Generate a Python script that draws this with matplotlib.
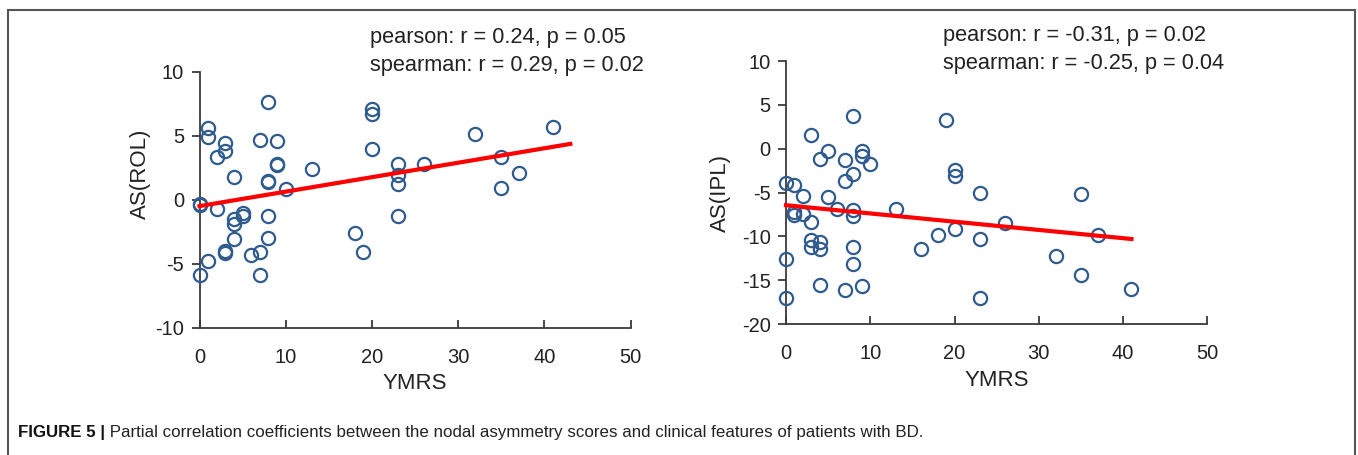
import matplotlib
matplotlib.use("Agg")
import matplotlib.pyplot as plt
import numpy as np
from matplotlib.patches import Rectangle

plt.rcParams['font.family'] = ['Liberation Sans', 'DejaVu Sans']
plt.rcParams['axes.unicode_minus'] = False

# ---- data ----
left_x = [1, 1, 0, 0, 0, 1, 2, 2, 3, 3, 3, 3, 4, 4, 4, 4, 5, 5, 6, 7, 7, 7, 8, 8, 8, 8, 8,
          9, 9, 9, 10, 13, 20, 20, 20, 18, 19, 23, 23, 23, 23, 26, 32, 35, 35, 37, 41]
left_y = [5.6, 4.9, -0.3, -0.4, -5.9, -4.8, 3.3, -0.7, 4.4, 3.8, -4.0, -4.2, 1.8, -1.5, -1.9, -3.1,
          -1.0, -1.3, -4.3, 4.7, -4.1, -5.9, 7.6, 1.5, 1.4, -1.3, -3.0, 4.6, 2.8, 2.7, 0.8, 2.4,
          7.1, 6.7, 4.0, -2.6, -4.1, 2.8, 1.9, 1.2, -1.3, 2.8, 5.1, 3.3, 0.9, 2.1, 5.7]
left_fit_x = [0, 43]
left_fit_intercept, left_fit_slope = -0.5, 0.113

right_x = [0, 0, 0, 1, 1, 1, 2, 2, 3, 3, 3, 3, 4, 4, 4, 4, 5, 5, 6, 7, 7, 7, 8, 8, 8, 8, 8, 8,
           9, 9, 9, 10, 13, 16, 18, 19, 20, 20, 20, 23, 23, 23, 26, 32, 35, 35, 37, 41]
right_y = [-3.9, -12.6, -17.0, -4.2, -7.2, -7.6, -5.4, -7.4, 1.6, -8.4, -10.4, -11.2, -1.2, -10.7,
           -11.5, -15.6, -0.3, -5.5, -6.9, -1.3, -3.7, -16.1, 3.7, -2.9, -7.0, -7.7, -11.2, -13.2,
           -0.3, -0.8, -15.7, -1.7, -6.9, -11.4, -9.8, 3.3, -2.4, -3.1, -9.2, -5.0, -10.3, -17.0,
           -8.5, -12.3, -5.2, -14.4, -9.9, -16.0]
right_fit_x = [0, 41]
right_fit_intercept, right_fit_slope = -6.45, -0.094

left_stats = ["pearson: r = 0.24, p = 0.05", "spearman: r = 0.29, p = 0.02"]
right_stats = ["pearson: r = -0.31, p = 0.02", "spearman: r = -0.25, p = 0.04"]
x_ticks = [0, 10, 20, 30, 40, 50]
left_yticks = [-10, -5, 0, 5, 10]
right_yticks = [-20, -15, -10, -5, 0, 5, 10]
xlabel = "YMRS"
left_ylabel = "AS(ROL)"
right_ylabel = "AS(IPL)"
caption_bold = "FIGURE 5 |"
caption_text = " Partial correlation coefficients between the nodal asymmetry scores and clinical features of patients with BD."

W, H = 1358, 455
fig = plt.figure(figsize=(W / 100, H / 100), dpi=100)

marker_color = '#2F5B8E'
spine_color = '#3a3a3a'
text_color = '#222222'


def style_axes(ax, yticks, ylim, ylabel):
    ax.set_xlim(0, 50)
    ax.set_ylim(*ylim)
    ax.set_xticks(x_ticks)
    ax.set_yticks(yticks)
    ax.spines['top'].set_visible(False)
    ax.spines['right'].set_visible(False)
    for s in ('left', 'bottom'):
        ax.spines[s].set_color(spine_color)
        ax.spines[s].set_linewidth(1.3)
    ax.tick_params(axis='x', direction='in', length=6, width=1.3, color=spine_color,
                   labelsize=14.5, labelcolor=text_color, pad=14.5)
    ax.tick_params(axis='y', direction='out', length=6, width=1.3, color=spine_color,
                   labelsize=14.5, labelcolor=text_color, pad=5)
    ax.set_xlabel(xlabel, fontsize=16, color=text_color)
    ax.set_ylabel(ylabel, fontsize=16, color=text_color)
    ax.patch.set_alpha(0)


# Left plot
ax1 = fig.add_axes([199.5 / W, 1 - 327.7 / H, 431.2 / W, 256 / H])
ax1.plot(left_x, left_y, 'o', mfc='none', mec=marker_color, ms=9.5, mew=1.6, clip_on=False, zorder=3)
lx = np.array(left_fit_x, dtype=float)
ax1.plot(lx, left_fit_intercept + left_fit_slope * lx, color='#ff0000', lw=3, zorder=4, clip_on=False)
style_axes(ax1, left_yticks, (-10, 10), left_ylabel)
ax1.yaxis.set_label_coords(-0.113, 0.6)
ax1.xaxis.set_label_coords(0.5, -0.178)

# Right plot
ax2 = fig.add_axes([786 / W, 1 - 324 / H, 421.3 / W, 263 / H])
ax2.plot(right_x, right_y, 'o', mfc='none', mec=marker_color, ms=9.5, mew=1.6, clip_on=False, zorder=3)
rx = np.array(right_fit_x, dtype=float)
ax2.plot(rx, right_fit_intercept + right_fit_slope * rx, color='#ff0000', lw=3, zorder=4, clip_on=False)
style_axes(ax2, right_yticks, (-20, 10), right_ylabel)
ax2.yaxis.set_label_coords(-0.131, 0.5)
ax2.xaxis.set_label_coords(0.5, -0.175)

# Stats text
for i, s in enumerate(left_stats):
    fig.text(370 / W, 1 - (38 + 28 * i) / H, s, fontsize=15.7, color=text_color, va='center', ha='left')
for i, s in enumerate(right_stats):
    fig.text(943 / W, 1 - (36 + 28 * i) / H, s, fontsize=15.7, color=text_color, va='center', ha='left')

# Caption: bold lead-in followed by regular text, scaled to span the reference width
renderer = fig.canvas.get_renderer()
cap_size = 10.5
t_b = fig.text(18 / W, 1 - 432 / H, caption_bold, fontsize=cap_size, fontweight='bold', color='#111111',
               va='center', ha='left')
bb = t_b.get_window_extent(renderer=renderer)
t_r = fig.text(bb.x1 / W, 1 - 432 / H, caption_text, fontsize=cap_size, color='#222222', va='center', ha='left')
end = t_r.get_window_extent(renderer=renderer).x1
scale = (927 - 18) / (end - 18)
cap_size *= scale
t_b.set_fontsize(cap_size)
t_r.set_fontsize(cap_size)
bb = t_b.get_window_extent(renderer=renderer)
t_r.set_x(bb.x1 / W)

# Frame around the figure (open at bottom)
fig.add_artist(Rectangle((8 / W, -0.05), (1355 - 8) / W, 1 - 10 / H + 0.05, transform=fig.transFigure,
                         fill=False, edgecolor='#555555', linewidth=1.5))

fig.savefig('out.png', dpi=100)
